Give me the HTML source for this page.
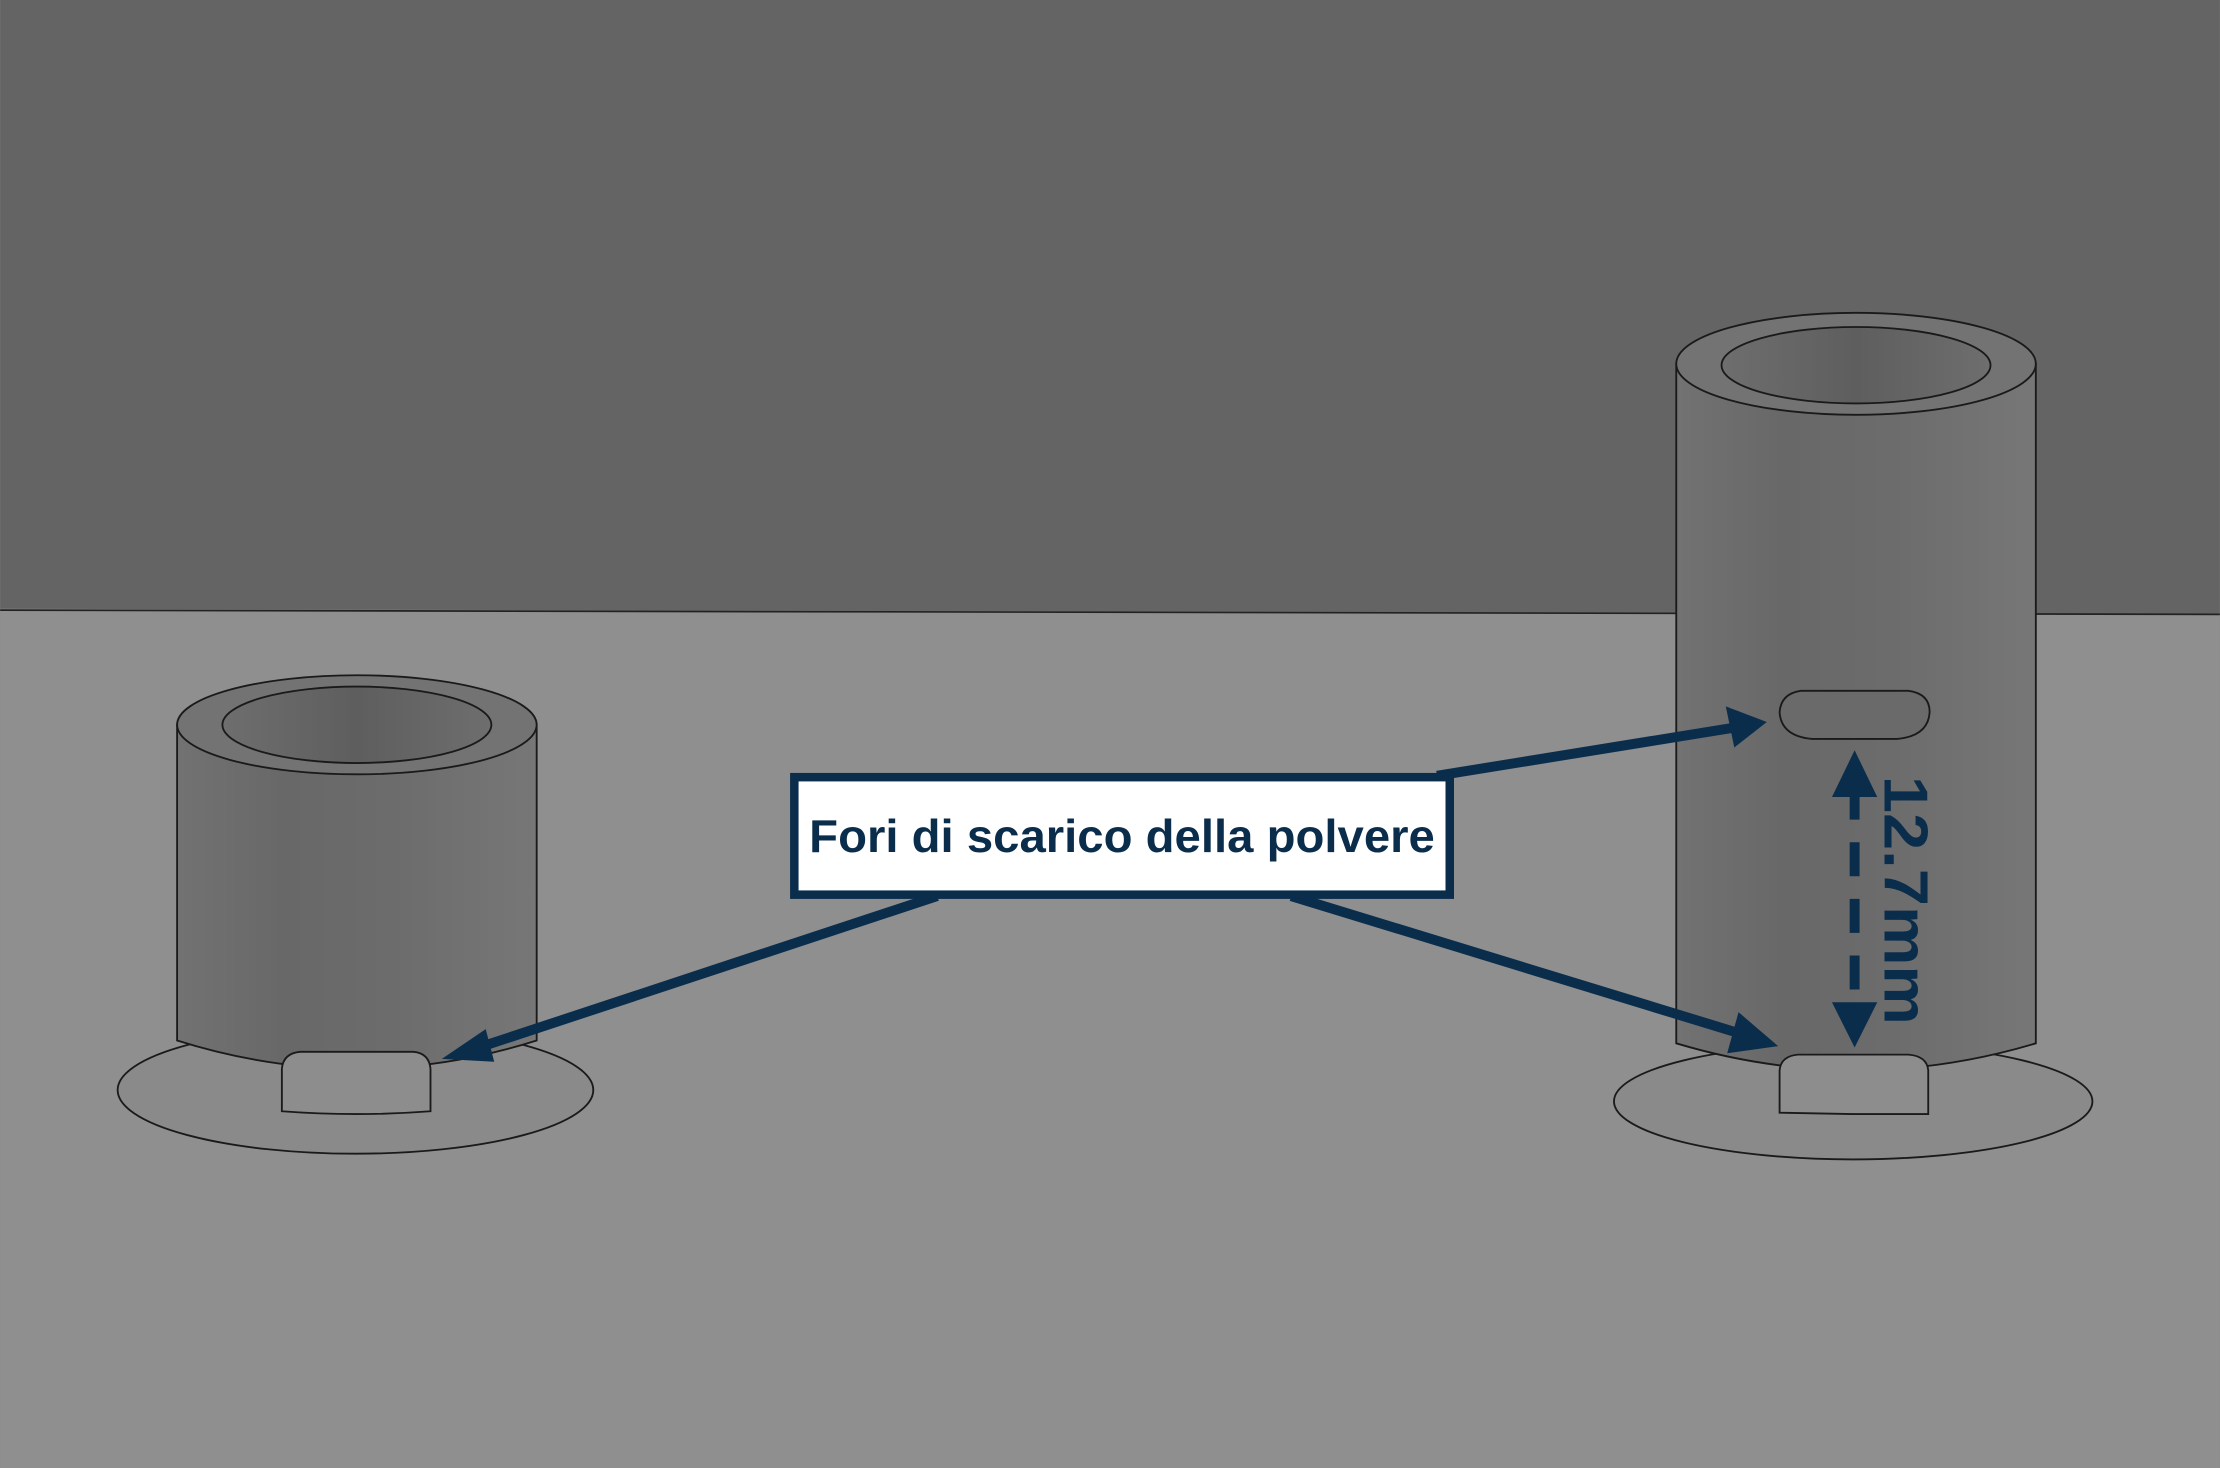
<!DOCTYPE html>
<html><head><meta charset="utf-8"><style>html,body{margin:0;padding:0;background:#8f8f8f}svg{display:block}</style></head>
<body>
<svg width="2220" height="1468" viewBox="0 0 1568 1037" xmlns="http://www.w3.org/2000/svg">
<defs>
<linearGradient id="body" x1="0" x2="1" y1="0" y2="0">
<stop offset="0" stop-color="#727272"/><stop offset="0.3" stop-color="#686868"/><stop offset="0.6" stop-color="#6c6c6c"/><stop offset="1" stop-color="#777"/></linearGradient>
<linearGradient id="inner" x1="0" x2="1"><stop offset="0" stop-color="#6e6e6e"/><stop offset="0.5" stop-color="#5e5e5e"/><stop offset="1" stop-color="#6e6e6e"/></linearGradient>
</defs>
<rect width="1568" height="1037" fill="#8f8f8f"/>
<polygon points="0,0 1568,0 1568,434 0,430" fill="#646464"/>
<line x1="0" y1="431" x2="1568" y2="434" stroke="#222" stroke-width="1.2"/>
<g stroke="#1a1a1a" stroke-width="1.3">
<ellipse cx="251" cy="770" rx="168" ry="45" fill="#8a8a8a"/>
<path d="M125,512 L125,735 Q252,775 379,735 L379,512 Z" fill="url(#body)"/>
<ellipse cx="252" cy="512" rx="127" ry="35" fill="#737373"/>
<ellipse cx="252" cy="512" rx="95" ry="27" fill="url(#inner)"/>
<path d="M199,785 L199,755 Q200,744 212,743 L292,743 Q303,744 304,755 L304,785 Q252,789 199,785 Z" fill="#8d8d8d"/>
<ellipse cx="1309" cy="778" rx="169" ry="41" fill="#8a8a8a"/>
<path d="M1184,257 L1184,737 Q1311,775 1438,737 L1438,257 Z" fill="url(#body)"/>
<ellipse cx="1311" cy="257" rx="127" ry="36" fill="#737373"/>
<ellipse cx="1311" cy="258" rx="95" ry="27" fill="url(#inner)"/>
<path d="M1272,488 L1348,488 Q1363,490 1363,503 Q1362,520 1340,522 L1280,522 Q1258,520 1257,503 Q1258,490 1272,488 Z" fill="#6a6a6a"/>
<path d="M1308,787 L1257,786 L1257,756 Q1258,746 1270,745 L1348,745 Q1361,746 1362,756 L1362,787 Z" fill="#8d8d8d"/>
</g>
<g fill="#0b2d4c" stroke="#0b2d4c">
<line x1="662" y1="633" x2="335" y2="741" stroke-width="7"/>
<polygon points="312,748 343,727 349,750" stroke="none"/>
<line x1="1015" y1="548" x2="1225" y2="514" stroke-width="7"/>
<polygon points="1248,510 1219,499 1225,528" stroke="none"/>
<line x1="912" y1="633" x2="1232" y2="731" stroke-width="7"/>
<polygon points="1256,739 1228,715 1220,744" stroke="none"/>
<line x1="1310" y1="555" x2="1310" y2="716" stroke-width="7" stroke-dasharray="24,16"/>
<polygon points="1310,530 1294,563 1326,563" stroke="none"/>
<polygon points="1310,740 1294,708 1326,708" stroke="none"/>
</g>
<text transform="translate(1331,548) rotate(90)" font-family="Liberation Sans, sans-serif" font-size="44" font-weight="bold" fill="#0b2d4c" textLength="176" lengthAdjust="spacingAndGlyphs">12.7mm</text>
<rect x="561" y="549" width="463" height="83" fill="#fff" stroke="#0b2d4c" stroke-width="6"/>
<text x="792.5" y="602" text-anchor="middle" font-family="Liberation Sans, sans-serif" font-size="33" font-weight="bold" fill="#0b2d4c" textLength="442" lengthAdjust="spacingAndGlyphs">Fori di scarico della polvere</text>
</svg>
</body></html>
